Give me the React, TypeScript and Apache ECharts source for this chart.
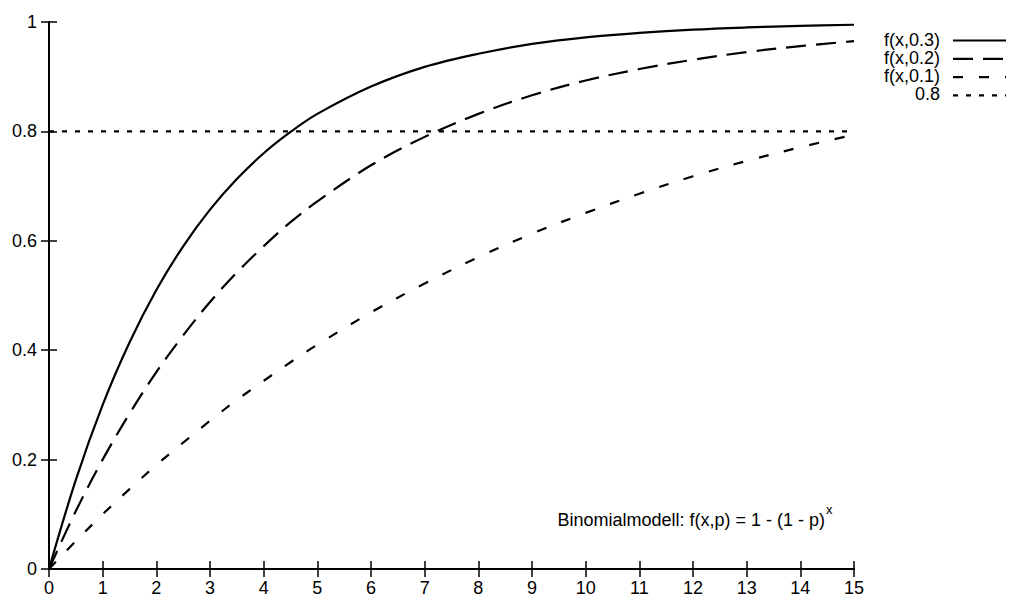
import React, { useEffect, useRef } from "react";
import * as echarts from "echarts";

const xValues = [0, 0.5, 1, 1.5, 2, 2.5, 3, 3.5, 4, 4.5, 5, 6, 7, 8, 9, 10, 11, 12, 13, 14, 15];
const seriesP03 = [0, 0.163, 0.3, 0.414, 0.51, 0.59, 0.657, 0.713, 0.76, 0.799, 0.832, 0.882, 0.918, 0.942, 0.96, 0.972, 0.98, 0.986, 0.99, 0.993, 0.995];
const seriesP02 = [0, 0.106, 0.2, 0.284, 0.36, 0.427, 0.488, 0.542, 0.59, 0.634, 0.672, 0.738, 0.79, 0.832, 0.866, 0.893, 0.914, 0.931, 0.945, 0.956, 0.965];
const seriesP01 = [0, 0.051, 0.1, 0.146, 0.19, 0.231, 0.271, 0.309, 0.344, 0.378, 0.41, 0.469, 0.522, 0.57, 0.613, 0.651, 0.686, 0.718, 0.746, 0.771, 0.794];
const thresholdValue = 0.8;
const legendLabels = ["f(x,0.3)", "f(x,0.2)", "f(x,0.1)", "0.8"];
const annotation = "Binomialmodell: f(x,p) = 1 - (1 - p)";
const annotationSup = "x";

const FONT = "Liberation Sans, Arial, sans-serif";
const dashes: any[] = ["solid", [20, 10], [10, 16], [5, 8]];

export default function App() {
  const ref = useRef<HTMLDivElement>(null);
  useEffect(() => {
    if (!ref.current) return;
    const chart = echarts.init(ref.current, undefined, { renderer: "svg" });
    const toPairs = (ys: number[]) => xValues.map((x, i) => [x, ys[i]]);
    const axisCommon = {
      type: "value" as const,
      axisLine: { show: true, lineStyle: { color: "#000", width: 2 } },
      axisTick: { show: true, inside: true, length: 8, lineStyle: { color: "#000", width: 1.5 } },
      splitLine: { show: false },
    };
    const lineSeries = (name: string, ys: number[], dash: any) => ({
      name,
      type: "line",
      data: toPairs(ys),
      smooth: 0.35,
      showSymbol: false,
      symbol: "none",
      xAxisIndex: 0,
      yAxisIndex: 0,
      lineStyle: { color: "#000", width: 2.2, type: dash },
    });
    const legendGraphics: any[] = [];
    legendLabels.forEach((label, i) => {
      const y = 39.5 + i * 18.3;
      legendGraphics.push({
        type: "text",
        x: 940,
        y,
        style: { text: label, font: `18px ${FONT}`, lineHeight: 16, fill: "#000", align: "right", verticalAlign: "middle" },
      });
      legendGraphics.push({
        type: "line",
        shape: { x1: 953, y1: y + 1, x2: 1006, y2: y + 1 },
        style: { stroke: "#000", lineWidth: 2.2, lineDash: dashes[i] === "solid" ? null : dashes[i] },
      });
    });
    chart.setOption({
      animation: false,
      backgroundColor: "#fff",
      grid: { left: 49, right: 161, top: 22, bottom: 26, containLabel: false },
      xAxis: [
        {
          ...axisCommon,
          position: "bottom",
          min: 0,
          max: 15,
          interval: 1,
          axisLabel: { show: true, color: "#000", fontSize: 18, fontFamily: FONT, margin: 10 },
        },
        {
          ...axisCommon,
          position: "top",
          min: 0,
          max: 15,
          interval: 1,
          axisLabel: { show: false },
        },
      ],
      yAxis: [
        {
          ...axisCommon,
          position: "left",
          min: 0,
          max: 1,
          interval: 0.2,
          axisLabel: {
            show: true,
            color: "#000",
            fontSize: 18,
            fontFamily: FONT,
            margin: 12,
            formatter: (v: number) => String(Math.round(v * 10) / 10),
          },
        },
        {
          ...axisCommon,
          position: "right",
          min: 0,
          max: 1,
          interval: 0.2,
          axisLabel: { show: false },
        },
      ],
      series: [
        lineSeries(legendLabels[0], seriesP03, "solid"),
        lineSeries(legendLabels[1], seriesP02, dashes[1]),
        lineSeries(legendLabels[2], seriesP01, dashes[2]),
        {
          name: legendLabels[3],
          type: "line",
          data: [[0, thresholdValue], [15, thresholdValue]],
          showSymbol: false,
          symbol: "none",
          lineStyle: { color: "#000", width: 2.2, type: dashes[3] },
        },
      ],
      graphic: [
        ...legendGraphics,
        {
          type: "text",
          x: 825,
          y: 520,
          style: { text: annotation, font: `18px ${FONT}`, fill: "#000", align: "right", verticalAlign: "middle" },
        },
        {
          type: "text",
          x: 826,
          y: 509,
          style: { text: annotationSup, font: `13px ${FONT}`, fill: "#000", align: "left", verticalAlign: "middle" },
        },
      ],
    });
    return () => chart.dispose();
  }, []);
  return <div ref={ref} style={{ width: 1015, height: 597, position: "absolute", left: 0, top: 0 }} />;
}
